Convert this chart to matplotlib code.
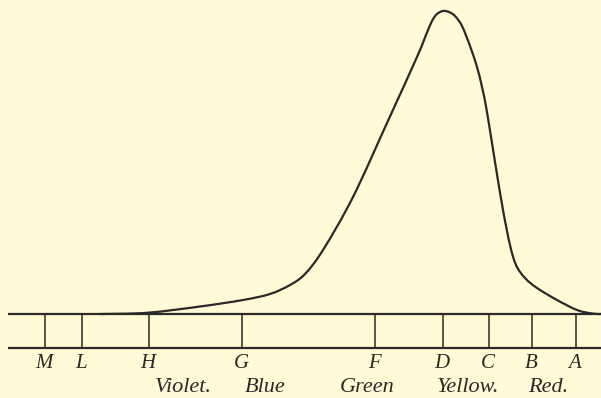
import matplotlib.pyplot as plt
from matplotlib.path import Path
from matplotlib.patches import PathPatch

# brightness of the spectrum along its length, read as height above the scale
spec_x = [100, 147, 200, 243, 270, 290, 305, 323, 353, 387, 417, 426, 432,
          437, 443, 449, 455, 462, 470, 477, 482, 487, 495, 503, 510, 516, 525,
          537, 557, 577, 592, 601]
spec_y = [314, 312.8, 306.5, 300, 294, 285, 274, 250, 197, 123, 57, 35, 21,
          14, 11, 12, 16, 26, 46, 67, 87, 112, 162, 210, 245, 265, 278,
          288, 300, 310, 313.5, 314]
brightness = [314 - v for v in spec_y]

# Fraunhofer lines
line_names = ['M', 'L', 'H', 'G', 'F', 'D', 'C', 'B', 'A']
line_pos = [45, 82, 149, 242, 375, 443, 489, 532, 576]

# colour names below the scale
colour_names = ['Violet.', 'Blue', 'Green', 'Yellow.', 'Red.']
colour_pos = [183, 265, 367, 468, 548]

ink = '#2b2828'
paper = '#fefbd6'


def smooth_path(xs, ys):
    # catmull-rom through the points, drawn as cubic bezier segments
    pts = list(zip(xs, ys))
    verts = [pts[0]]
    codes = [Path.MOVETO]
    n = len(pts)
    for i in range(n - 1):
        p0 = pts[max(i - 1, 0)]
        p1 = pts[i]
        p2 = pts[i + 1]
        p3 = pts[min(i + 2, n - 1)]
        c1 = (p1[0] + (p2[0] - p0[0]) / 6, p1[1] + (p2[1] - p0[1]) / 6)
        c2 = (p2[0] - (p3[0] - p1[0]) / 6, p2[1] - (p3[1] - p1[1]) / 6)
        verts += [c1, c2, p2]
        codes += [Path.CURVE4] * 3
    return Path(verts, codes)


fig = plt.figure(figsize=(6.01, 3.98), dpi=100, facecolor=paper)
ax = fig.add_axes([0, 0, 1, 1])
ax.set_facecolor(paper)
ax.set_xlim(0, 601)
ax.set_ylim(-84, 314)
ax.axis('off')

# scale: two rules with the lines between them
ax.plot([8, 601], [0, 0], color=ink, lw=1.6, solid_capstyle='butt')
ax.plot([8, 601], [-34, -34], color=ink, lw=1.6, solid_capstyle='butt')
ax.vlines(line_pos, -34, 0, color=ink, lw=1.1)

# the curve
ax.add_patch(PathPatch(smooth_path(spec_x, brightness), facecolor='none',
                       edgecolor=ink, lw=1.6, joinstyle='round'))

for name, x in zip(line_names, line_pos):
    ax.text(x - 1, -49, name, ha='center', va='center', fontsize=15,
            family='Liberation Serif', style='italic', color=ink)

for name, x in zip(colour_names, colour_pos):
    ax.text(x, -73, name, ha='center', va='center', fontsize=16,
            family='Liberation Serif', style='italic', color=ink)

fig.savefig('out.png', dpi=100, facecolor=paper)
